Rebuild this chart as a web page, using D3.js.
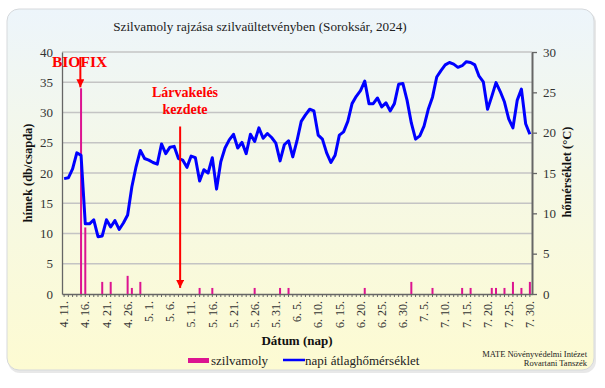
<!DOCTYPE html>
<html><head><meta charset="utf-8">
<script src="https://cdn.jsdelivr.net/npm/d3@7"></script>
<style>
body{margin:0;background:#fff}
svg{display:block}
text{font-family:"Liberation Serif","Times New Roman",serif}
</style>
</head><body>
<svg id="c" width="605" height="388"></svg>
<script>
// ---------- DATA ----------
const title = "Szilvamoly rajzása szilvaültetvényben (Soroksár, 2024)";
const startDate = "2024-04-11";
const endDate = "2024-07-30";
// daily mean temperature (°C), 4.11 – 7.30
const temperature = [
  14.3,14.4,15.5,17.5,17.2,8.7,8.7,9.2,7.1,7.2,
  9.2,8.3,9.1,8.0,8.8,9.8,13.3,15.8,17.8,16.8,
  16.6,16.3,16.1,18.6,17.4,18.2,18.3,16.8,16.6,15.7,
  17.1,16.9,14.0,15.4,15.0,16.9,13.0,16.4,18.1,19.1,
  19.8,18.1,18.8,17.4,19.8,18.9,20.6,19.3,19.9,19.4,
  18.7,16.5,18.5,19.0,17.0,19.0,21.4,22.2,22.9,22.7,
  19.7,19.2,17.5,16.3,17.2,19.7,20.1,21.4,23.6,24.5,
  25.2,26.4,23.6,23.6,24.3,23.2,23.7,22.7,23.6,26.0,
  26.1,24.0,21.2,19.2,19.6,20.8,22.9,24.4,26.9,27.7,
  28.4,28.7,28.5,28.1,28.3,28.8,28.7,28.4,27.0,26.3,
  22.9,24.5,26.2,25.1,23.8,21.7,20.6,24.0,25.4,21.1,
  19.8
];
// male moths caught per trap (only non-zero days)
const mothDates  = ["4. 15.","4. 16.","4. 20.","4. 22.","4. 26.","4. 27.","4. 29.","5. 13.","5. 16.","5. 26.","6. 1.","6. 3.","6. 21.","7. 2.","7. 7.","7. 14.","7. 16.","7. 21.","7. 22.","7. 24.","7. 26.","7. 28.","7. 30."];
const mothCounts = [34,11,2,2,3,1,2,1,1,1,1,1,1,2,1,1,1,1,1,1,2,1,2];
const leftTicks  = [0,5,10,15,20,25,30,35,40];
const rightTicks = [0,5,10,15,20,25,30];
const labelEvery = 5;
const biofixDate = "4. 15.";
const biofixValue = 34;
const larvaPos = 27.4;      // position (day index) of the "Lárvakelés kezdete" arrow
const larvaFrom = 30, larvaTo = 2;   // arrow from/to on left-axis units
const seriesNames = ["szilvamoly","napi átlaghőmérséklet"];
const axisTitles = {left:"hímek (db/csapda)", right:"hőmérséklet (°C)", x:"Dátum (nap)"};
const credit = ["MATE Növényvédelmi Intézet","Rovartani Tanszék"];

// ---------- LAYOUT ----------
const plot={l:62,r:532,t:52,b:294};
const pink="#dc1491", blue="#0000ff", red="#ff0000";

const parse=d3.timeParse("%Y-%m-%d");
const days=d3.timeDay.range(parse(startDate), d3.timeDay.offset(parse(endDate),1));
const dayLabels=days.map(d=>`${d.getMonth()+1}. ${d.getDate()}.`);
const idx=d3.range(days.length);

const svg=d3.select("#c");
const defs=svg.append("defs");
const g1=defs.append("linearGradient").attr("id","bg").attr("x1",0).attr("y1",0).attr("x2",0).attr("y2",1);
g1.append("stop").attr("offset","0%").attr("stop-color","#edf5fb");
g1.append("stop").attr("offset","45%").attr("stop-color","#f5f8e6");
g1.append("stop").attr("offset","100%").attr("stop-color","#fdfbd2");
const mk=defs.append("marker").attr("id","ah").attr("viewBox","0 0 10 10").attr("refX",10).attr("refY",5)
  .attr("markerWidth",4).attr("markerHeight",4).attr("orient","auto").attr("markerUnits","strokeWidth");
mk.append("path").attr("d","M0,0L10,5L0,10z").attr("fill",red);

// panel
svg.append("rect").attr("x",8).attr("y",11).attr("width",588).attr("height",362).attr("rx",12)
  .attr("fill","#d8d8d8").attr("opacity",0.6);
svg.append("rect").attr("x",7).attr("y",9).attr("width",587).attr("height",361).attr("rx",12)
  .attr("fill","url(#bg)").attr("stroke","#d6d9dc").attr("stroke-width",1);

// scales
const x=d3.scaleBand().domain(idx).range([plot.l,plot.r]).padding(0);
const xc=i=>x(i)+x.bandwidth()/2;
const yL=d3.scaleLinear().domain([0,40]).range([plot.b,plot.t]);
const yR=d3.scaleLinear().domain([0,30]).range([plot.b,plot.t]);

// gridlines
svg.append("g").selectAll("line").data(leftTicks.filter(v=>v>0)).join("line")
  .attr("x1",plot.l).attr("x2",plot.r).attr("y1",d=>yL(d)).attr("y2",d=>yL(d))
  .attr("stroke","#c4c4c4").attr("stroke-width",1.3);

// title
svg.append("text").attr("x",260).attr("y",31).attr("text-anchor","middle")
  .attr("font-size",13.2).attr("fill","#222").text(title);

// left axis
const la=svg.append("g").attr("transform",`translate(${plot.l},0)`)
  .call(d3.axisLeft(yL).tickValues(leftTicks).tickSize(0).tickPadding(9));
la.select(".domain").attr("stroke","#666").attr("stroke-width",1.3);
la.selectAll("text").attr("font-size",13).attr("fill","#333").attr("font-family","Liberation Serif");

// right axis
const ra=svg.append("g").attr("transform",`translate(${plot.r},0)`)
  .call(d3.axisRight(yR).tickValues(rightTicks).tickSize(5).tickSizeOuter(0).tickPadding(6));
ra.select(".domain").attr("stroke","#666").attr("stroke-width",2);
ra.selectAll(".tick line").attr("stroke","#666").attr("stroke-width",1.3);
ra.selectAll("text").attr("font-size",13).attr("fill","#333").attr("font-family","Liberation Serif");

// bottom axis
const ba=svg.append("g").attr("transform",`translate(0,${plot.b})`)
  .call(d3.axisBottom(x).tickValues(idx).tickSize(3).tickSizeOuter(0)
    .tickFormat(i=>i%labelEvery===0?dayLabels[i]:""));
ba.select(".domain").attr("stroke","#666").attr("stroke-width",1.5);
ba.selectAll(".tick line").attr("stroke","#666").attr("stroke-width",1);
ba.selectAll("text").attr("font-size",12).attr("fill","#333").attr("font-family","Liberation Serif")
  .attr("transform","rotate(-90)").attr("text-anchor","end").attr("x",-7).attr("y",0).attr("dy","0.35em");

// bars (moths)
const mothMap=new Map(mothDates.map((d,i)=>[d,mothCounts[i]]));
const barData=idx.filter(i=>mothMap.has(dayLabels[i])).map(i=>({i,v:mothMap.get(dayLabels[i])}));
svg.append("g").selectAll("rect").data(barData).join("rect")
  .attr("x",d=>xc(d.i)-1).attr("width",2)
  .attr("y",d=>yL(d.v)).attr("height",d=>yL(0)-yL(d.v)).attr("fill",pink);

// temperature line
svg.append("path").datum(temperature)
  .attr("d",d3.line().x((d,i)=>xc(i)).y(d=>yR(d)))
  .attr("fill","none").attr("stroke",blue).attr("stroke-width",3).attr("stroke-linejoin","round");

// axis titles
svg.append("text").attr("transform",`translate(32,173) rotate(-90)`).attr("text-anchor","middle")
  .attr("font-size",12.5).attr("font-weight","bold").attr("fill","#111").text(axisTitles.left);
svg.append("text").attr("transform",`translate(571,172) rotate(-90)`).attr("text-anchor","middle")
  .attr("font-size",12.5).attr("font-weight","bold").attr("fill","#111").text(axisTitles.right);
svg.append("text").attr("x",297).attr("y",345).attr("text-anchor","middle")
  .attr("font-size",13).attr("font-weight","bold").attr("fill","#111").text(axisTitles.x);

// annotations
const bi=dayLabels.indexOf(biofixDate);
svg.append("text").attr("x",52).attr("y",67).attr("font-size",15.5).attr("font-weight","bold")
  .attr("fill",red).text("BIOFIX");
svg.append("line").attr("x1",xc(bi)-0.7).attr("x2",xc(bi)-0.7).attr("y1",yL(40)+5).attr("y2",yL(biofixValue)-1)
  .attr("stroke",red).attr("stroke-width",2).attr("marker-end","url(#ah)");
const lx=plot.l+x.bandwidth()*(larvaPos+0.5);
svg.append("text").attr("x",185).attr("y",97).attr("text-anchor","middle").attr("font-size",14)
  .attr("font-weight","bold").attr("fill",red).text("Lárvakelés");
svg.append("text").attr("x",185).attr("y",114).attr("text-anchor","middle").attr("font-size",14)
  .attr("font-weight","bold").attr("fill",red).text("kezdete");
svg.append("line").attr("x1",lx).attr("x2",lx).attr("y1",yL(larvaFrom)+14).attr("y2",yL(larvaTo)+6)
  .attr("stroke",red).attr("stroke-width",2).attr("marker-end","url(#ah)");

// legend
svg.append("rect").attr("x",188).attr("y",358).attr("width",21).attr("height",5).attr("fill",pink);
svg.append("text").attr("x",211).attr("y",365).attr("font-size",13).attr("fill","#222").text(seriesNames[0]);
svg.append("line").attr("x1",283).attr("x2",305).attr("y1",360).attr("y2",360).attr("stroke",blue).attr("stroke-width",2.5);
svg.append("text").attr("x",305).attr("y",365).attr("font-size",13).attr("fill","#222").text(seriesNames[1]);

// credit
svg.append("text").attr("x",587).attr("y",357).attr("text-anchor","end").attr("font-size",8.5).attr("fill","#222").text(credit[0]);
svg.append("text").attr("x",587).attr("y",366).attr("text-anchor","end").attr("font-size",8.5).attr("fill","#222").text(credit[1]);
</script>
</body></html>
